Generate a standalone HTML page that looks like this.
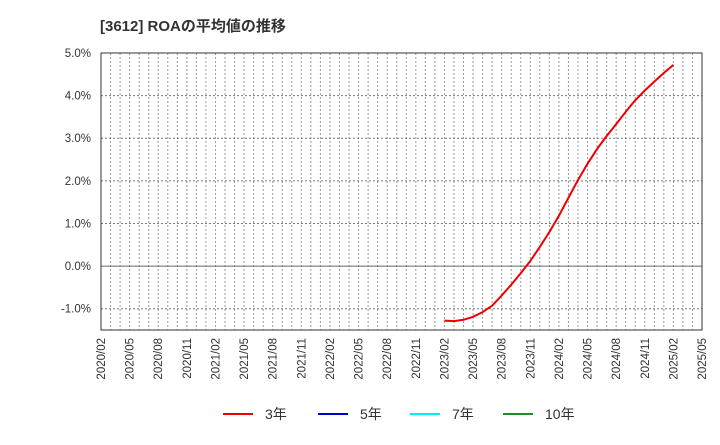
<!DOCTYPE html>
<html><head><meta charset="utf-8"><style>
body{margin:0;background:#fff;font-family:"Liberation Sans","Noto Sans CJK JP",sans-serif}
svg text{font-family:"Liberation Sans","Noto Sans CJK JP",sans-serif}
</style></head><body>
<svg width="720" height="440" xmlns="http://www.w3.org/2000/svg">
<text x="100" y="31" font-size="15" font-weight="bold" fill="#333">[3612]  ROAの平均値の推移</text>
<g id="grid"></g>
<g id="yticks"></g>
<g id="xticks"></g>
<g id="series"></g>
<rect x="101" y="53" width="601" height="277" fill="none" stroke="#333" stroke-width="1"/>
<g>
<g><line x1="223" y1="414" x2="253" y2="414" stroke="#e00" stroke-width="2"/><text x="265" y="419" font-size="14" fill="#333">3年</text></g>
<g><line x1="318" y1="414" x2="348" y2="414" stroke="#00c" stroke-width="2"/><text x="360" y="419" font-size="14" fill="#333">5年</text></g>
<g><line x1="410" y1="414" x2="440" y2="414" stroke="#0ee" stroke-width="2"/><text x="452" y="419" font-size="14" fill="#333">7年</text></g>
<g><line x1="503" y1="414" x2="533" y2="414" stroke="#228b22" stroke-width="2"/><text x="545" y="419" font-size="14" fill="#333">10年</text></g>
</g>
</svg>
<script>
const yTicks=[-1,0,1,2,3,4,5];
const yTickLabels=["-1.0%","0.0%","1.0%","2.0%","3.0%","4.0%","5.0%"];
const xTickLabels=["2020/02","2020/05","2020/08","2020/11","2021/02","2021/05","2021/08","2021/11","2022/02","2022/05","2022/08","2022/11","2023/02","2023/05","2023/08","2023/11","2024/02","2024/05","2024/08","2024/11","2025/02","2025/05"];
const roa3Start=36; // months after 2020/02
const roa3=[-1.28,-1.29,-1.26,-1.19,-1.08,-0.93,-0.69,-0.44,-0.17,0.12,0.45,0.80,1.18,1.60,2.02,2.40,2.75,3.05,3.33,3.62,3.89,4.12,4.33,4.53,4.72];
const NS="http://www.w3.org/2000/svg";
const L=101,R=702,T=53,B=330,ymin=-1.5,ymax=5,months=63;
const xs=m=>L+(R-L)*m/months;
const ys=v=>B-(B-T)*(v-ymin)/(ymax-ymin);
function mk(t,a,p){const e=document.createElementNS(NS,t);for(const k in a)e.setAttribute(k,a[k]);p.appendChild(e);return e;}
const g=document.getElementById('grid');
for(let m=1;m<months;m++){const l=mk('line',{x1:xs(m),x2:xs(m),y1:T,y2:B,stroke:'#999','stroke-dasharray':'2,2'},g);

}
const yt=document.getElementById('yticks');
yTicks.forEach((v,i)=>{const y=ys(v);
if(v<5){const l=mk('line',{x1:L,x2:R,y1:y,y2:y,stroke:v===0?'#666':'#777','stroke-dasharray':v===0?'':'2,2'},g);

}
const t=mk('text',{x:91,y:y+4,'text-anchor':'end','font-size':'11.5',fill:'#333'},yt);t.textContent=yTickLabels[i];

});
const xt=document.getElementById('xticks');
xTickLabels.forEach((s,i)=>{const x=xs(i*3);
const t=mk('text',{x:x+4,y:338,'text-anchor':'end','font-size':'11.5',fill:'#333',transform:`rotate(-90 ${x+4} 338)`},xt);t.textContent=s;

});
const sg=document.getElementById('series');
const pts=roa3.map((v,i)=>xs(roa3Start+i).toFixed(1)+','+ys(v).toFixed(1)).join(' ');
const pl=mk('polyline',{points:pts,fill:'none',stroke:'#e00','stroke-width':2,'stroke-linejoin':'round'},sg);


</script>
</body></html>
